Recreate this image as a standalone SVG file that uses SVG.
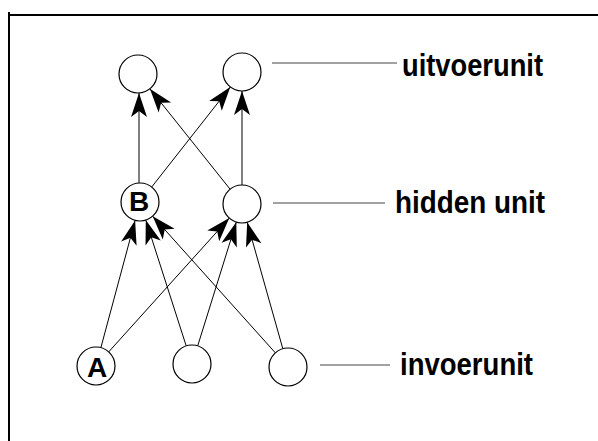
<svg xmlns="http://www.w3.org/2000/svg" width="598" height="441" viewBox="0 0 598 441">
<style>
.n{fill:#fff;stroke:#000;stroke-width:1.2}
.c{stroke:#000;stroke-width:1;fill:none;marker-end:url(#ah)}
.lbl{font-family:"Liberation Sans",Arial,sans-serif;font-weight:bold;font-size:31px;fill:#000}
.ln{font-family:"Liberation Sans",Arial,sans-serif;font-weight:bold;font-size:28px;fill:#000;text-anchor:middle}
.tl{stroke:#444;stroke-width:1}
</style>
<defs>
<marker id="ah" markerUnits="userSpaceOnUse" viewBox="0 0 24 16" markerWidth="24" markerHeight="16" refX="24" refY="8" orient="auto" overflow="visible">
<path d="M24,8 L0,0 L6,8 L0,16 Z" fill="#000"/>
</marker>
</defs>
<rect width="598" height="441" fill="#fff"/>
<g id="frame" fill="none" stroke="#000" stroke-width="2">
<path d="M9,441 V12"/>
<path d="M8,15 H598"/>
</g>
<g id="connectors">
<line class="c" x1="100.9" y1="347.6" x2="135.1" y2="220.4"/>
<line class="c" x1="108.7" y1="351.9" x2="229.3" y2="218.1"/>
<line class="c" x1="186.2" y1="345.9" x2="145.8" y2="220.1"/>
<line class="c" x1="197.7" y1="345.9" x2="236.3" y2="222.1"/>
<line class="c" x1="275.3" y1="352.8" x2="152.7" y2="216.2"/>
<line class="c" x1="282.8" y1="348.7" x2="247.2" y2="222.3"/>
<line class="c" x1="139" y1="183" x2="139" y2="93"/>
<line class="c" x1="151.7" y1="187" x2="230.3" y2="87"/>
<line class="c" x1="230.1" y1="189.2" x2="149.9" y2="88.8"/>
<line class="c" x1="242" y1="185" x2="242" y2="91"/>
<line class="tl" x1="272" y1="63" x2="397" y2="63"/>
<line class="tl" x1="273" y1="203" x2="385" y2="203"/>
<line class="tl" x1="320" y1="365" x2="390" y2="365"/>
</g>
<g id="out1"><circle class="n" cx="138" cy="74" r="19"/></g>
<g id="out2"><circle class="n" cx="242" cy="72" r="19"/></g>
<g id="hidB"><circle class="n" cx="140" cy="202" r="19"/><text class="ln" x="139" y="211">B</text></g>
<g id="hid2"><circle class="n" cx="242" cy="204" r="19"/></g>
<g id="inA"><circle class="n" cx="96" cy="366" r="19"/><text class="ln" x="97" y="377">A</text></g>
<g id="in2"><circle class="n" cx="192" cy="364" r="19"/></g>
<g id="in3"><circle class="n" cx="288" cy="367" r="19"/></g>
<g id="labels">
<text class="lbl" x="402" y="76" textLength="141" lengthAdjust="spacingAndGlyphs">uitvoerunit</text>
<text class="lbl" x="395" y="213" textLength="150" lengthAdjust="spacingAndGlyphs">hidden unit</text>
<text class="lbl" x="400" y="375" textLength="133" lengthAdjust="spacingAndGlyphs">invoerunit</text>
</g>
</svg>
